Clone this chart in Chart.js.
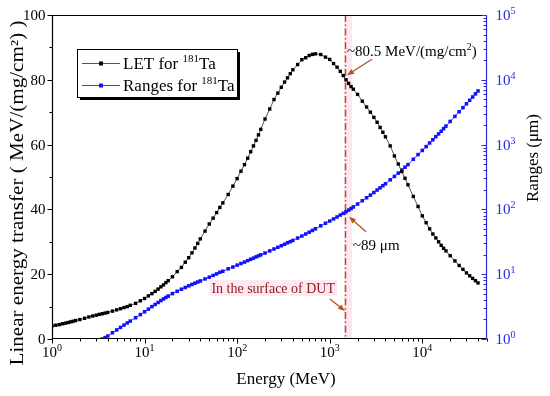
<!DOCTYPE html>
<html><head><meta charset="utf-8">
<script src="https://cdn.jsdelivr.net/npm/chart.js@4.4.1/dist/chart.umd.min.js"></script>
<style>html,body{margin:0;padding:0;background:#fff;}#wrap{width:550px;height:396px;}</style>
</head><body><div id="wrap"><canvas id="c" width="550" height="396"></canvas></div>
<script>
// ---------- data ----------
const energy = [1,1.1,1.2,1.3,1.4,1.5,1.6,1.7,1.8,2,2.25,2.5,2.75,3,3.25,3.5,3.75,4,4.5,5,5.5,6,6.5,7,8,9,
  10,11,12,13,14,15,16,17,18,20,22.5,25,27.5,30,32.5,35,37.5,40,45,50,55,60,65,70,80,90,
  100,110,120,130,140,150,160,170,180,200,225,250,275,300,325,350,375,400,450,500,550,600,650,700,800,900,
  1000,1100,1200,1300,1400,1500,1600,1700,1800,2000,2250,2500,2750,3000,3250,3500,3750,4000,4500,5000,5500,6000,6500,7000,8000,9000,
  10000,11000,12000,13000,14000,15000,16000,17000,18000,20000,22500,25000,27500,30000,32500,35000,37500,40000];
const letValues = [4.0,4.25,4.45,4.7,4.9,5.1,5.3,5.5,5.7,6.0,6.4,6.8,7.1,7.35,7.6,7.8,8.0,8.2,8.6,9.0,9.35,9.7,10.0,10.4,11.0,11.8,
  12.5,13.3,14.0,14.7,15.4,16.1,16.7,17.4,18.0,19.2,20.8,22.1,23.7,25.1,26.6,28.1,29.5,30.9,33.3,35.5,37.3,39.0,40.6,42.0,44.6,47.2,
  49.5,51.8,53.8,55.8,57.8,59.6,61.3,63.0,64.7,67.9,71.0,73.9,75.9,77.7,79.3,80.6,81.9,83.1,84.7,86.2,86.8,87.5,87.85,88.0,87.8,87.0,
  86.3,85.0,83.9,82.6,81.3,80.0,78.9,77.9,77.1,75.5,73.4,71.6,70.0,68.4,66.9,65.3,63.8,62.4,59.6,56.5,54.0,51.7,49.6,47.6,44.0,40.9,
  38.0,35.9,34.0,32.4,31.2,30.0,28.9,28.0,27.2,25.7,24.1,22.7,21.5,20.4,19.5,18.7,18.0,17.3];
// ranges (um) for the energies from 3.5 MeV upward (below that the range is under 1 um)
const rangeValues = [1.00,1.05,1.11,1.25,1.38,1.51,1.64,1.77,1.89,2.13,2.38,
  2.63,2.89,3.16,3.41,3.66,3.91,4.15,4.37,4.59,5.02,5.45,5.87,6.24,6.61,6.95,7.27,7.57,7.87,8.45,9.00,9.57,10.1,10.7,11.1,12.1,12.9,
  13.8,14.6,15.4,16.2,17.0,17.7,18.5,19.2,19.9,21.2,22.9,24.5,26.0,27.5,29.0,30.5,31.8,33.2,36.1,38.8,41.7,44.5,47.3,50.2,55.8,61.2,
  66.1,71.3,76.4,81.8,86.9,92.0,97.5,103,109,121,136,151,166,182,199,215,232,249,286,323,363,405,448,491,594,701,
  813,931,1059,1189,1324,1462,1607,1762,1928,2275,2729,3214,3715,4256,4831,5433,6067,6730];
const rangeEnergy = energy.slice(energy.length - rangeValues.length);

const xTickValues = [1,10,100,1000,10000];
const xTickExps = ['0','1','2','3','4'];
const letTickValues = [0,20,40,60,80,100];
const letTickLabels = ['0','20','40','60','80','100'];
const rangeTickValues = [1,10,100,1000,10000,100000];
const rangeTickExps = ['0','1','2','3','4','5'];

const surfaceEnergy = 1445;   // MeV, dashed line
const surfaceLET = 80.5;      // MeV/(mg/cm2)
const surfaceRange = 89;      // um

// ---------- styles ----------
const F = '"Liberation Serif","Times New Roman",serif';
const BLUE = '#1010ff';
const AXBLUE = '#2a2ae0';
const BROWN = '#b0561f';

function supText(ctx, base, sup, x, y, size, supSize, align, rise){
  ctx.font = size + 'px ' + F;
  const wb = ctx.measureText(base).width;
  ctx.font = supSize + 'px ' + F;
  const ws = ctx.measureText(sup).width;
  let sx = x;
  if (align === 'center') sx = x - (wb + ws) / 2;
  else if (align === 'right') sx = x - wb - ws;
  ctx.textAlign = 'left'; ctx.textBaseline = 'alphabetic';
  ctx.font = size + 'px ' + F; ctx.fillText(base, sx, y);
  ctx.font = supSize + 'px ' + F; ctx.fillText(sup, sx + wb, y - rise);
  return sx + wb + ws;
}
function seg(ctx, x1, y1, x2, y2){ ctx.beginPath(); ctx.moveTo(x1, y1); ctx.lineTo(x2, y2); ctx.stroke(); }
function arrow(ctx, x1, y1, x2, y2, color){
  const ang = Math.atan2(y2 - y1, x2 - x1), L = 7, W = 2.8;
  ctx.save();
  ctx.strokeStyle = color; ctx.fillStyle = color; ctx.lineWidth = 1.3; ctx.setLineDash([]);
  seg(ctx, x1, y1, x2 - L * 0.7 * Math.cos(ang), y2 - L * 0.7 * Math.sin(ang));
  ctx.beginPath(); ctx.moveTo(x2, y2);
  ctx.lineTo(x2 - L * Math.cos(ang) + W * Math.sin(ang), y2 - L * Math.sin(ang) - W * Math.cos(ang));
  ctx.lineTo(x2 - L * Math.cos(ang) - W * Math.sin(ang), y2 - L * Math.sin(ang) + W * Math.cos(ang));
  ctx.closePath(); ctx.fill();
  ctx.restore();
}

const annot = {
  id: 'annot',
  beforeDatasetsDraw(chart){
    const {ctx, chartArea: a, scales: {x}} = chart;
    const xd = Math.round(x.getPixelForValue(surfaceEnergy));
    ctx.save();
    ctx.fillStyle = 'rgba(255,185,215,0.35)';
    ctx.fillRect(xd - 1, a.top, 8, a.bottom - a.top);
    ctx.strokeStyle = BROWN; ctx.lineWidth = 1.5; ctx.setLineDash([7, 2.5, 1.5, 2.5]);
    seg(ctx, xd + 0.5, a.top, xd + 0.5, a.bottom);
    ctx.restore();
  },
  afterDraw(chart){
    const {ctx, chartArea: a, scales: {x, yL, yR}} = chart;
    ctx.save();
    ctx.setLineDash([]);
    const L = Math.round(a.left) + 0.5, R = Math.round(a.right) - 0.5;
    const T = Math.round(a.top) + 0.5, B = Math.round(a.bottom) - 0.5;
    // frame
    ctx.lineWidth = 1.2; ctx.strokeStyle = '#000';
    seg(ctx, L, T, R, T); seg(ctx, L, T, L, B + 0.5); seg(ctx, L - 0.5, B, R, B);
    // left ticks
    ctx.lineWidth = 1;
    for (let v = 0; v <= 100; v += 10){
      const y = Math.round(yL.getPixelForValue(v)) + 0.5;
      seg(ctx, L - (v % 20 === 0 ? 5 : 3), y, L, y);
    }
    ctx.fillStyle = '#000'; ctx.font = '15px ' + F; ctx.textAlign = 'right'; ctx.textBaseline = 'middle';
    letTickValues.forEach((v, i) => ctx.fillText(letTickLabels[i], L - 7, yL.getPixelForValue(v) + 1));
    // bottom ticks
    for (let d = 1; d <= 10000; d *= 10){
      for (let m = 1; m <= 9; m++){
        const v = d * m; if (v > x.max) break;
        const px = Math.round(x.getPixelForValue(v)) + 0.5;
        seg(ctx, px, B, px, B + (m === 1 ? 5 : 3));
      }
    }
    ctx.fillStyle = '#000';
    xTickValues.forEach((v, i) => supText(ctx, '10', xTickExps[i], x.getPixelForValue(v), B + 18, 15, 10, 'center', 6));
    // right axis (blue)
    ctx.strokeStyle = AXBLUE; ctx.lineWidth = 1.2;
    seg(ctx, R, T, R, B + 0.5);
    ctx.lineWidth = 1;
    for (let d = 1; d <= 100000; d *= 10){
      for (let m = 1; m <= 9; m++){
        const v = d * m; if (v > yR.max) break;
        const py = Math.round(yR.getPixelForValue(v)) + 0.5;
        seg(ctx, R - (m === 1 ? 5 : 3), py, R, py);
      }
    }
    ctx.fillStyle = AXBLUE;
    rangeTickValues.forEach((v, i) => supText(ctx, '10', rangeTickExps[i], R + 9, yR.getPixelForValue(v) + 5, 15, 10, 'left', 6));
    // axis titles
    ctx.fillStyle = '#000'; ctx.textAlign = 'center'; ctx.textBaseline = 'middle';
    ctx.font = '17px ' + F;
    ctx.fillText('Energy (MeV)', 286, 380);
    ctx.save(); ctx.translate(18, 193); ctx.rotate(-Math.PI / 2);
    ctx.font = '18px ' + F;
    const yTitle = 'Linear energy transfer ( MeV/(mg/cm\u00B2) )';
    const tw = ctx.measureText(yTitle).width;
    ctx.scale(345 / tw, 1);
    ctx.fillText(yTitle, 0, 0);
    ctx.restore();
    ctx.save(); ctx.translate(534, 158); ctx.rotate(-Math.PI / 2);
    ctx.font = '17px ' + F;
    ctx.fillText('Ranges (\u03BCm)', 0, 0);
    ctx.restore();
    // legend
    const lx = 77, ly = 49, lw = 160, lh = 48;
    ctx.fillStyle = '#000'; ctx.fillRect(lx + 3, ly + 3, lw, lh);
    ctx.fillStyle = '#fff'; ctx.fillRect(lx, ly, lw, lh);
    ctx.strokeStyle = '#000'; ctx.lineWidth = 1; ctx.strokeRect(lx + 0.5, ly + 0.5, lw, lh);
    const rows = [{y: 63, line: '#555', mark: '#000', t: 'LET for '}, {y: 85, line: '#3a3aff', mark: BLUE, t: 'Ranges for '}];
    rows.forEach(r => {
      ctx.strokeStyle = r.line; ctx.lineWidth = 1; seg(ctx, 82, r.y + 0.5, 120, r.y + 0.5);
      ctx.fillStyle = r.mark; ctx.fillRect(99, r.y - 1.5, 4, 4);
      ctx.fillStyle = '#000';
      const e1 = supText(ctx, r.t, '181', 123, r.y + 6, 17, 11, 'left', 7);
      ctx.font = '17px ' + F; ctx.textAlign = 'left'; ctx.fillText('Ta', e1, r.y + 6);
    });
    // annotations
    const xd = Math.round(x.getPixelForValue(surfaceEnergy));
    const yLet = yL.getPixelForValue(surfaceLET);
    const yRg = yR.getPixelForValue(surfaceRange);
    ctx.fillStyle = '#000'; ctx.textAlign = 'left'; ctx.textBaseline = 'alphabetic';
    const e2 = supText(ctx, '~80.5 MeV/(mg/cm', '2', xd + 2, yLet - 22, 15, 10, 'left', 6);
    ctx.font = '15px ' + F; ctx.fillText(')', e2, yLet - 22);
    arrow(ctx, xd + 27, yLet - 19, xd + 2, yLet - 3, BROWN);
    ctx.fillStyle = '#000'; ctx.font = '15px ' + F; ctx.textAlign = 'left';
    ctx.fillText('~89 \u03BCm', xd + 8, yRg + 37);
    arrow(ctx, xd + 21, yRg + 19, xd + 4, yRg + 4, BROWN);
    ctx.font = '14px ' + F;
    const t3 = 'In the surface of DUT';
    const w3 = ctx.measureText(t3).width;
    ctx.fillStyle = 'rgba(255,190,215,0.35)'; ctx.fillRect(xd - 10 - w3 - 2, 280, w3 + 4, 16);
    ctx.fillStyle = '#8b1c1c'; ctx.textAlign = 'right';
    ctx.fillText(t3, xd - 10, 293);
    arrow(ctx, xd - 15, 299, xd, 311, BROWN);
    ctx.restore();
  }
};

new Chart(document.getElementById('c'), {
  type: 'scatter',
  data: {
    datasets: [
      { label: 'LET for 181Ta', data: energy.map((e, i) => ({x: e, y: letValues[i]})), yAxisID: 'yL',
        showLine: true, borderColor: '#555', borderWidth: 1, pointStyle: 'rect', pointRadius: 2.4,
        pointBackgroundColor: '#000', pointBorderColor: '#000', pointBorderWidth: 0 },
      { label: 'Ranges for 181Ta', data: rangeEnergy.map((e, i) => ({x: e, y: rangeValues[i]})), yAxisID: 'yR',
        showLine: true, borderColor: '#3a3aff', borderWidth: 1, pointStyle: 'rect', pointRadius: 2.5,
        pointBackgroundColor: BLUE, pointBorderColor: BLUE, pointBorderWidth: 0 }
    ]
  },
  options: {
    responsive: false, animation: false, devicePixelRatio: 1,
    layout: {padding: {top: 15, left: 0, right: 0, bottom: 0}},
    plugins: {legend: {display: false}, tooltip: {enabled: false}},
    scales: {
      x: {type: 'logarithmic', position: 'bottom', min: 1, max: 50000,
          grid: {display: false}, border: {display: false}, ticks: {display: false},
          afterFit(s){ s.height = 57; }},
      yL: {type: 'linear', position: 'left', min: 0, max: 100,
          grid: {display: false}, border: {display: false}, ticks: {display: false},
          afterFit(s){ s.width = 52; }},
      yR: {type: 'logarithmic', position: 'right', min: 1, max: 100000,
          grid: {display: false}, border: {display: false}, ticks: {display: false},
          afterFit(s){ s.width = 63; }}
    }
  },
  plugins: [annot]
});
</script>
</body></html>
